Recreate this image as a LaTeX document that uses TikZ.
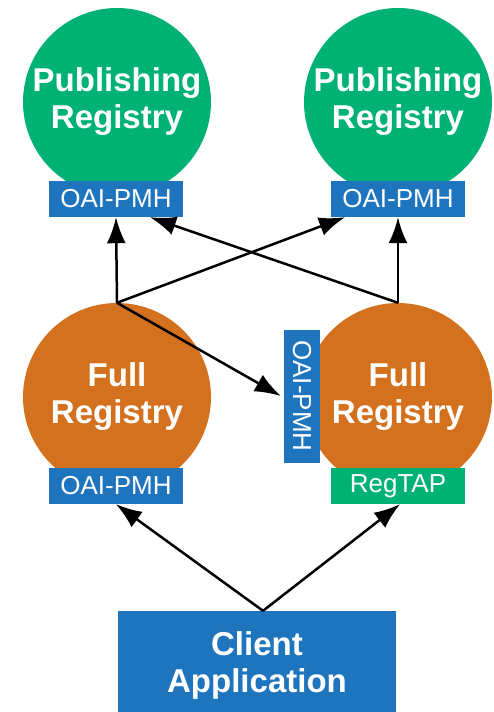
\documentclass[tikz,border=0pt]{standalone}
\usepackage{fontspec}
\setmainfont{Liberation Sans}
\usetikzlibrary{arrows.meta}
\definecolor{regGreen}{RGB}{0,177,116}
\definecolor{regOrange}{RGB}{212,113,30}
\definecolor{regBlue}{RGB}{30,116,189}

\begin{document}
\begin{tikzpicture}[x=1pt, y=-1pt]
% STYLES
\tikzset{%
    registry/.style={%
circle,
inner sep=0pt,
minimum size=188pt,
text=white,
align=center,
font=\fontsize{33}{37}\selectfont\bfseries
                          },
    pub/.style={registry, fill=regGreen},
    full/.style={registry, fill=regOrange},
    iface/.style={%
rectangle,
fill=regBlue,
inner sep=0pt,
minimum width=134pt,
minimum height=36pt,
text=white,
font=\fontsize{26}{28}\selectfont
                          },
    link/.style={-{Latex[length=26pt,width=19pt]}, line width=2.5pt}
             }

\useasboundingbox (0,0) rectangle (494,712);
\clip (0,0) rectangle (494,712);

% Draw registries
\node [pub] (publeft) at (117,102) {Publishing\\Registry};
\node [pub] (pubright) at (398,102) {Publishing\\Registry};
\node [full] (fullleft) at (117,397) {Full\\Registry};
\node [full] (fullright) at (398,397) {Full\\Registry};
% Draw interfaces
\node [iface] (oaipubleft) at (116,199) {OAI-PMH};
\node [iface] (oaipubright) at (398,199) {OAI-PMH};
\node [iface] (oaifullleft) at (116,486) {OAI-PMH};
\node [iface, fill=regGreen] (regtap) at (398,486) {RegTAP};
\node [iface, minimum width=133pt, rotate=-90] (oaifullright) at (302,396) {OAI-PMH};
% Draw the client
\node [rectangle, fill=regBlue, inner sep=0pt, minimum width=278pt,
       minimum height=108pt, text=white, align=center,
       font=\fontsize{33}{37}\selectfont\bfseries]
       (client) at (257,665) {Client\\Application};
% Draw the links
\draw[link] (fullleft.north) -- (oaipubleft.south);
\draw[link] (fullleft.north) -- ([xshift=-53pt]oaipubright.south);
\draw[link] (fullleft.north) -- ([xshift=-3pt]oaifullright.south);
\draw[link] (fullright.north) -- (oaipubright.south);
\draw[link] (fullright.north) -- ([xshift=34pt]oaipubleft.south);
\draw[link] ([xshift=6pt]client.north) -- (oaifullleft.south);
\draw[link] ([xshift=6pt]client.north) -- ([xshift=2pt]regtap.south);
\end{tikzpicture}
\end{document}
